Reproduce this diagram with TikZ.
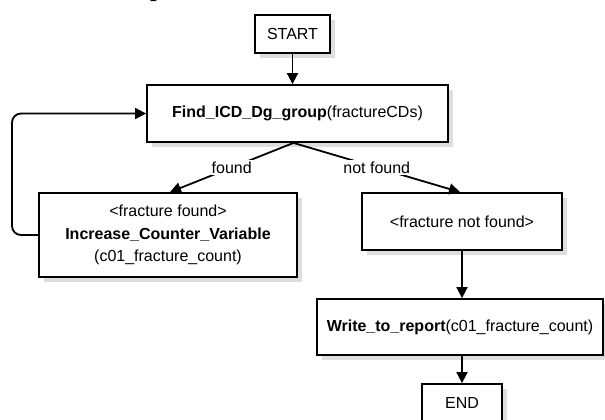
\documentclass[tikz,border=0pt]{standalone}
\usepackage{fontspec}
\setmainfont{Liberation Sans}
\newfontfamily\titleserif{Liberation Serif}
\usetikzlibrary{arrows.meta,shadows}
\tikzset{
  box/.style={draw=black, line width=1.8pt, fill=white, rectangle, inner sep=2pt,
    align=center, font=\fontsize{16}{22.5}\selectfont,
    drop shadow={shadow xshift=5pt, shadow yshift=-5pt, fill=black!18, opacity=0.7}},
  conn/.style={draw=black, line width=1.8pt, -{Triangle[length=11pt,width=11pt]}},
  lbl/.style={fill=white, inner sep=1.5pt, font=\fontsize{16}{19}\selectfont}
}
\begin{document}
\begin{tikzpicture}[x=1pt,y=-1pt]
\useasboundingbox[fill=white] (0,0) rectangle (605,420);
% cut-off title fragment
\node[anchor=base west, inner sep=0pt, font=\titleserif\bfseries\fontsize{24}{28}\selectfont] (title) at (150,-3.5) {p};
% boxes
\node[box, minimum width=75pt, minimum height=38pt] (start) at (292.5,34) {START};
\node[box, minimum width=301pt, minimum height=57pt] (find) at (297.5,113.5) {\textbf{Find\_ICD\_Dg\_group}(fractureCDs)};
\node[box, minimum width=258pt, minimum height=84pt] (found) at (168,235) {<fracture found>\\\textbf{Increase\_Counter\_Variable}\\(c01\_fracture\_count)};
\node[box, minimum width=200pt, minimum height=57pt] (notfound) at (462,221.5) {<fracture not found>};
\node[box, minimum width=286pt, minimum height=56pt] (write) at (460,327) {\textbf{Write\_to\_report}(c01\_fracture\_count)};
\node[box, minimum width=80pt, minimum height=38pt] (end) at (462,403) {END};
% connectors
\draw[conn] (start.south) -- (start.south |- find.north);
\draw[conn] ([xshift=-4pt]find.south) -- node[lbl] {found} ([xshift=2pt]found.north);
\draw[conn] ([xshift=-4pt]find.south) -- node[lbl] {not found} ([xshift=-2pt]notfound.north);
\draw[conn] (notfound.south) -- (notfound.south |- write.north);
\draw[conn] (end.north |- write.south) -- (end.north);
\coordinate (lp) at (12,0);
\draw[conn, rounded corners=9pt] (found.west) -- (found.west -| lp) -- (lp |- find.west) -- (find.west);
\end{tikzpicture}
\end{document}
